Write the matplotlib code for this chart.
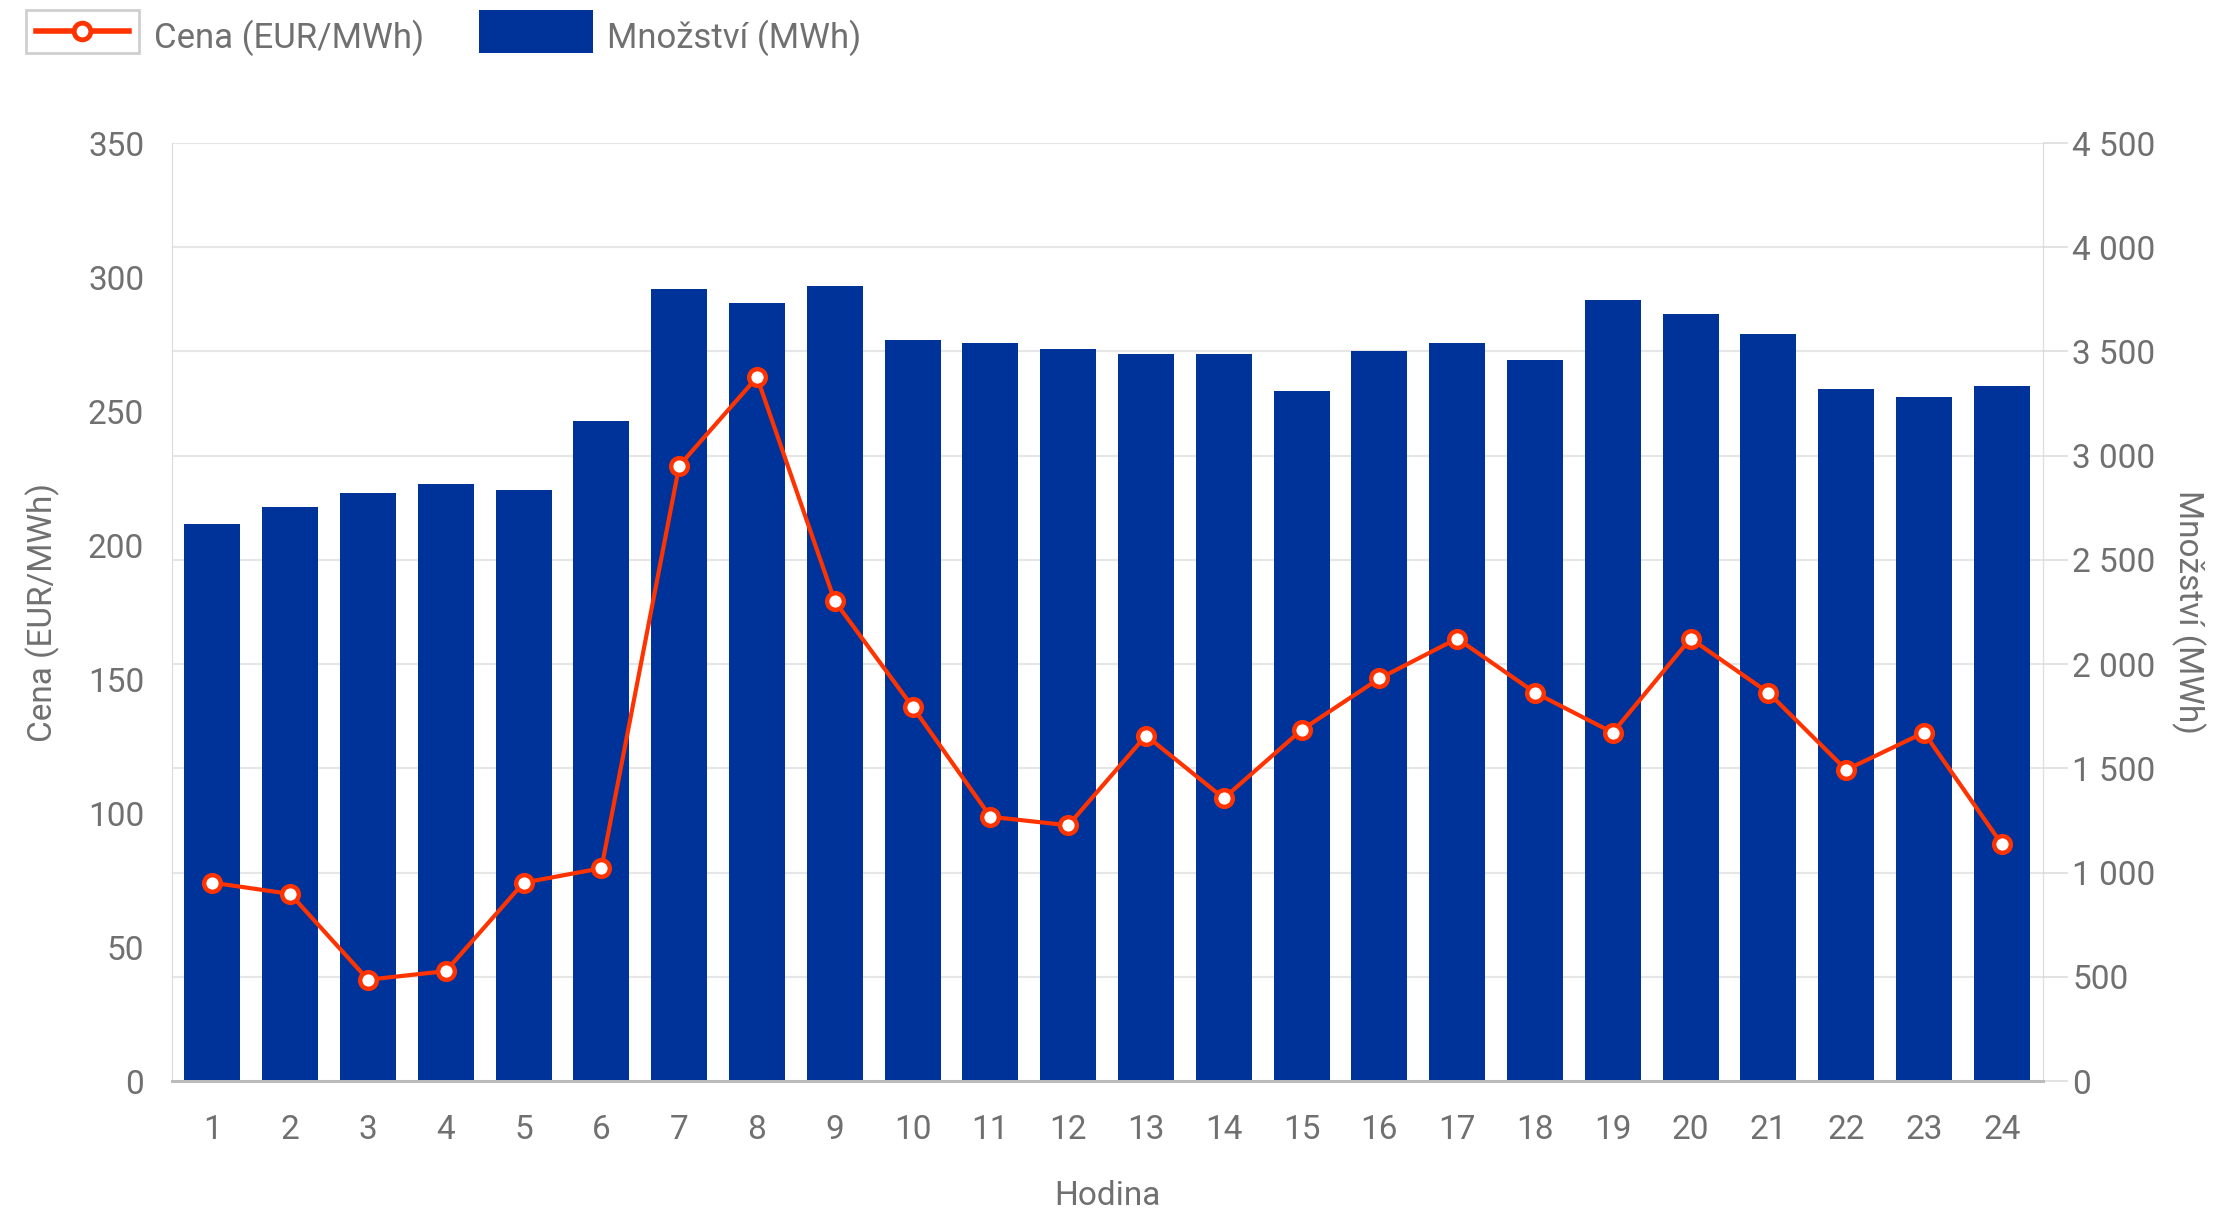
import numpy as np
import matplotlib.pyplot as plt
from matplotlib.lines import Line2D
from matplotlib.patches import Rectangle
from matplotlib.ticker import FuncFormatter, MultipleLocator

plt.rcParams['font.family'] = ['Roboto', 'DejaVu Sans']

hours = np.arange(1, 25)
quantity = [2671, 2753, 2822, 2863, 2835, 3164, 3801, 3733, 3815, 3555, 3541, 3514,
            3486, 3486, 3308, 3500, 3541, 3459, 3746, 3678, 3582, 3322, 3281, 3336]
price = [74.0, 69.8, 37.8, 41.0, 74.0, 79.4, 229.6, 262.6, 179.0, 139.6, 98.6, 95.4,
         128.9, 105.5, 131.0, 150.2, 165.1, 144.9, 130.0, 165.1, 144.9, 116.1, 130.0, 88.4]

W, H = 2240, 1213
blue = '#003399'
red = '#ff3300'
grey = '#707070'

fig = plt.figure(figsize=(W / 100, H / 100), dpi=100)
ax = fig.add_axes([172 / W, 1 - 1081 / H, (2043 - 172) / W, (1081 - 143) / H])
ax2 = ax.twinx()

# bars on right axis, behind
ax2.bar(hours, quantity, width=0.72, color=blue, zorder=2)
ax2.set_ylim(0, 4500)
ax2.yaxis.set_major_locator(MultipleLocator(500))
ax2.yaxis.set_major_formatter(FuncFormatter(lambda v, p: f"{int(v):,}".replace(",", " ")))
ax2.grid(axis='y', color='#e6e6e6', linewidth=1.5, zorder=0)
ax2.set_axisbelow(True)
ax2.tick_params(axis='y', length=18, width=1.2, color='#dddddd', labelsize=24,
                labelcolor=grey, pad=3)
ax2.set_ylabel('Množství (MWh)', rotation=270, fontsize=24, color=grey, labelpad=36)

# price line on left axis, in front
ax.set_zorder(ax2.get_zorder() + 1)
ax.patch.set_visible(False)
ax.plot(hours, price, color=red, linewidth=3, marker='o', markersize=12,
        markerfacecolor='white', markeredgecolor=red, markeredgewidth=3.2, zorder=3)
ax.set_ylim(0, 350)
ax.yaxis.set_major_locator(MultipleLocator(50))
ax.tick_params(axis='y', length=0, labelsize=24, labelcolor=grey, pad=20)
ax.tick_params(axis='x', length=0, labelsize=24, labelcolor=grey, pad=24)
ax.set_xticks(hours)
ax.set_xlim(0.48, 24.53)
ax.set_ylabel('Cena (EUR/MWh)', fontsize=24, color=grey, labelpad=20)
ax.set_xlabel('Hodina', fontsize=24, color=grey, labelpad=24)

for a in (ax, ax2):
    a.spines['top'].set_visible(False)
    a.spines['left'].set_color('#dddddd')
    a.spines['right'].set_color('#dddddd')
    a.spines['bottom'].set_color('#bbbbbb')
    a.spines['bottom'].set_linewidth(2)

# legend
fig.add_artist(Rectangle((26 / W, 1 - 53 / H), 113 / W, 43 / H, transform=fig.transFigure,
                         facecolor='white', edgecolor='#cfcfcf', linewidth=2, zorder=1))
fig.add_artist(Line2D([36 / W, 129 / W], [1 - 31 / H, 1 - 31 / H], transform=fig.transFigure,
                      color=red, linewidth=4, zorder=2))
fig.add_artist(Line2D([82 / W], [1 - 31 / H], transform=fig.transFigure, color=red,
                      marker='o', markersize=12, markerfacecolor='white',
                      markeredgecolor=red, markeredgewidth=3.5, linestyle='none', zorder=3))
fig.text(154 / W, 1 - 38 / H, 'Cena (EUR/MWh)', fontsize=25, color=grey, va='center')
fig.add_artist(Rectangle((479 / W, 1 - 53 / H), 114 / W, 43 / H, transform=fig.transFigure,
                         facecolor=blue, edgecolor='none'))
fig.text(607 / W, 1 - 38 / H, 'Množství (MWh)', fontsize=25, color=grey, va='center')

fig.savefig('out.png', dpi=100, facecolor='white')
